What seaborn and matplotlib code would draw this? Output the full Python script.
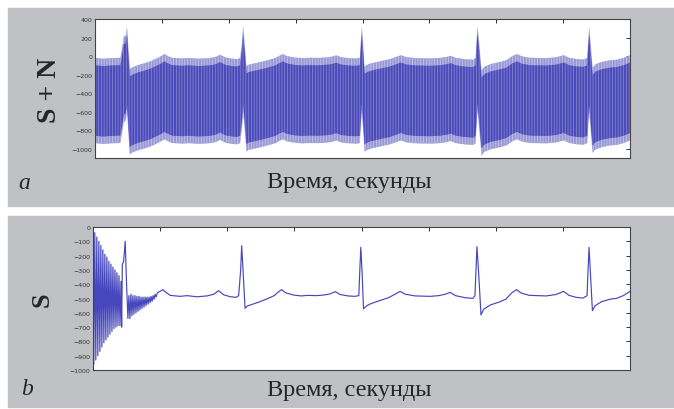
import matplotlib
matplotlib.use('Agg')
import matplotlib.pyplot as plt
from matplotlib.patches import Rectangle
import numpy as np
import seaborn as sns

# panel b: filter transient at the start (zigzag read point by point)
s_start_t = [0.000, 0.012, 0.027, 0.042, 0.057, 0.072, 0.087, 0.102, 0.117, 0.132,
             0.147, 0.162, 0.177, 0.192, 0.207, 0.222, 0.237, 0.252, 0.267, 0.282,
             0.297, 0.312, 0.327, 0.342, 0.357, 0.372, 0.387, 0.402, 0.417, 0.427,
             0.437, 0.455, 0.480, 0.500, 0.520, 0.535, 0.550, 0.565, 0.580, 0.595,
             0.610, 0.625, 0.640, 0.655, 0.670, 0.685, 0.700, 0.715, 0.730, 0.745,
             0.760, 0.775, 0.790, 0.805, 0.820, 0.835, 0.850, 0.865, 0.880, 0.895,
             0.910, 0.925, 0.940, 0.960, 1.000, 1.040]
s_start_v = [-20, -960, -40, -930, -70, -900, -100, -870, -130, -840,
             -160, -810, -190, -790, -210, -770, -240, -750, -260, -730,
             -280, -710, -300, -700, -320, -690, -340, -690, -380, -700,
             -260, -245, -100, -400, -640, -480, -640, -470, -620, -480,
             -610, -480, -600, -485, -590, -485, -580, -490, -570, -490,
             -560, -490, -550, -490, -540, -490, -530, -485, -520, -480,
             -505, -470, -490, -460, -450, -438]

# panel a: centre of the S+N band before the first T wave
sn_start_t = [0.00, 0.12, 0.25, 0.38, 0.41, 0.43, 0.455, 0.48, 0.50, 0.52,
              0.56, 0.65, 0.75, 0.85, 0.95, 1.04]
sn_start_v = [-480, -488, -482, -478, -350, -250, -245, -150, -380, -600,
              -580, -555, -535, -510, -475, -438]

# ECG from the first T wave on (same in both panels)
ecg_t = [1.08, 1.15, 1.30, 1.40, 1.55, 1.70, 1.80, 1.87, 1.95, 2.05,
         2.13, 2.17, 2.20, 2.215, 2.235, 2.265, 2.30, 2.39, 2.50, 2.59,
         2.70, 2.76, 2.81, 2.87, 2.99, 3.10, 3.20, 3.33, 3.45, 3.53,
         3.61, 3.68, 3.80, 3.90, 3.96, 3.975, 3.99, 4.01, 4.03, 4.08,
         4.13, 4.25, 4.40, 4.50, 4.575, 4.65, 4.80, 5.02, 5.15, 5.25,
         5.32, 5.40, 5.55, 5.66, 5.69, 5.705, 5.72, 5.745, 5.78, 5.82,
         5.92, 6.05, 6.15, 6.24, 6.31, 6.38, 6.50, 6.61, 6.75, 6.90,
         7.01, 7.09, 7.20, 7.30, 7.36, 7.375, 7.39, 7.41, 7.44, 7.48,
         7.58, 7.70, 7.80, 7.90, 7.98, 8.00]
ecg_v = [-455, -478, -485, -480, -488, -482, -470, -445, -475, -488,
         -492, -480, -300, -131, -300, -569, -552, -538, -520, -503,
         -480, -455, -438, -460, -476, -482, -478, -480, -475, -468,
         -452, -472, -482, -485, -480, -300, -142, -330, -572, -550,
         -538, -518, -495, -470, -450, -470, -482, -485, -480, -470,
         -457, -480, -495, -499, -480, -300, -137, -320, -615, -575,
         -545, -525, -505, -460, -438, -462, -478, -480, -482, -472,
         -450, -478, -492, -497, -480, -300, -142, -320, -585, -550,
         -522, -505, -499, -480, -457, -450]

# half widths of the noise band in panel a
noise_outer = 460
noise_inner = 380

top_yticks = [400, 200, 0, -200, -400, -600, -800, -1000]
bottom_yticks = [0, -100, -200, -300, -400, -500, -600, -700, -800, -900, -1000]
x_ticks = [1, 2, 3, 4, 5, 6, 7]

panel_gray = '#bfc1c4'
line_blue = '#4646bd'
band_light = '#9898d6'
band_dark = '#4a4abb'

sns.set_style('white')
plt.rcParams['font.family'] = ['Liberation Serif', 'DejaVu Serif']
plt.rcParams['hatch.linewidth'] = 0.6

fig = plt.figure(figsize=(6.74, 4.10), dpi=100)
fig.patch.set_facecolor('white')
fig.patches.append(Rectangle((8 / 674, 1 - 207 / 410), 1, 198 / 410,
                             transform=fig.transFigure, color=panel_gray, zorder=-10))
fig.patches.append(Rectangle((8 / 674, 1 - 408 / 410), 1, 191 / 410,
                             transform=fig.transFigure, color=panel_gray, zorder=-10))

ax_a = fig.add_axes([95 / 674, 1 - 159 / 410, 535 / 674, 139 / 410])
ax_b = fig.add_axes([93 / 674, 1 - 371 / 410, 537 / 674, 143 / 410])

# panel a: signal + noise band
sn_t = np.array(sn_start_t + ecg_t)
sn_mid = np.array(sn_start_v + ecg_v)
ax_a.fill_between(sn_t, sn_mid - noise_outer, sn_mid + noise_outer,
                  facecolor=band_light, edgecolor='#c4c4e8', linewidth=0, hatch='||||||')
ax_a.fill_between(sn_t, sn_mid - noise_inner, sn_mid + noise_inner,
                  facecolor=band_dark, edgecolor='#8282cc', linewidth=0, hatch='||||||')
ax_a.set_ylim(-1100, 400)
ax_a.set_yticks(top_yticks)

# panel b: filtered signal
s_t = s_start_t + ecg_t
s_v = s_start_v + ecg_v
sns.lineplot(x=s_t, y=s_v, ax=ax_b, color=line_blue, linewidth=0.85, sort=False)
ax_b.set_ylim(-1000, 0)
ax_b.set_yticks(bottom_yticks)

for ax in (ax_a, ax_b):
    ax.set_xlim(0, 8)
    ax.set_xticks(x_ticks)
    ax.set_xticklabels([])
    ax.set_facecolor('white')
    ax.tick_params(direction='in', length=3, width=0.7, colors='#333333',
                   top=True, right=True, labelsize=4.5, pad=2)
    for lbl in ax.get_yticklabels():
        lbl.set_family('DejaVu Sans')
    for sp in ax.spines.values():
        sp.set_color('#444444')
        sp.set_linewidth(0.8)
    ax.set_xlabel('')
    ax.set_ylabel('')

fig.text(50 / 674, 1 - 90 / 410, 'S + N', rotation=90, fontsize=20, fontweight='bold',
         ha='center', va='center')
fig.text(42 / 674, 1 - 300 / 410, 'S', rotation=90, fontsize=19, fontweight='bold',
         ha='center', va='center')
fig.text(349 / 674, 1 - 183 / 410, 'Время, секунды', fontsize=17.5, ha='center', va='center')
fig.text(349 / 674, 1 - 391 / 410, 'Время, секунды', fontsize=17.5, ha='center', va='center')
fig.text(24 / 674, 1 - 184 / 410, 'a', fontsize=17, style='italic', ha='center', va='center')
fig.text(27 / 674, 1 - 390 / 410, 'b', fontsize=17, style='italic', ha='center', va='center')

fig.savefig('out.png', dpi=100)
